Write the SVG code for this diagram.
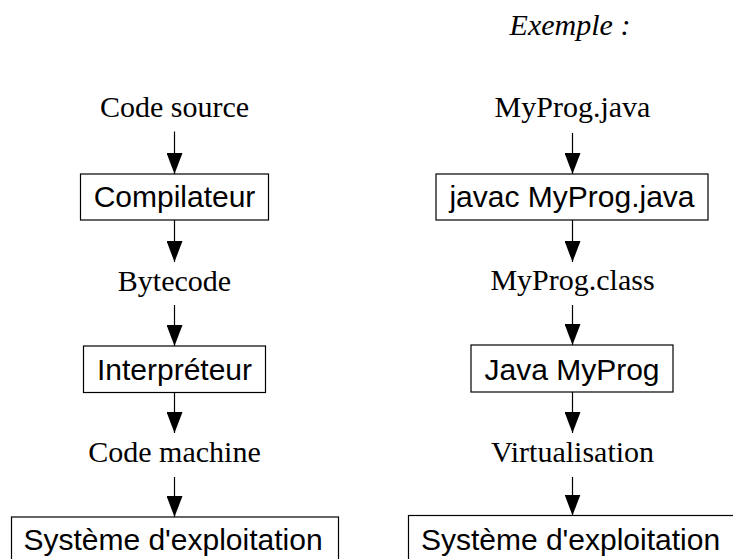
<svg xmlns="http://www.w3.org/2000/svg" width="733" height="559" viewBox="0 0 733 559">
<style>
.bg{fill:#fff}
.box{fill:#fff;stroke:#000;stroke-width:1.2}
.lbl{font-family:"Liberation Serif","Times New Roman",serif;font-size:30px;fill:#000;text-anchor:middle}
.it{font-style:italic}
.btxt{font-family:"Liberation Sans",Arial,sans-serif;font-size:30px;fill:#000;text-anchor:middle}
.conn line{stroke:#000;stroke-width:1.2;marker-end:url(#arr)}
</style>
<defs>
<marker id="arr" markerUnits="userSpaceOnUse" markerWidth="22" markerHeight="16" refX="21" refY="8" orient="auto" viewBox="0 0 22 16">
<path d="M0,0 L21,8 L0,16 z" fill="#000"/>
</marker>
</defs>
<rect class="bg" x="0" y="0" width="733" height="559"/>
<g id="title"><text class="lbl it" x="570" y="35">Exemple :</text></g>
<g id="code-source"><text class="lbl" x="174.5" y="117">Code source</text></g>
<g id="compilateur"><rect class="box" x="80.5" y="174" width="188" height="46"/><text class="btxt" x="174.5" y="207">Compilateur</text></g>
<g id="bytecode"><text class="lbl" x="174.5" y="291">Bytecode</text></g>
<g id="interpreteur"><rect class="box" x="83.5" y="346" width="182" height="46.5"/><text class="btxt" x="174.5" y="380">Interpréteur</text></g>
<g id="code-machine"><text class="lbl" x="174.5" y="462">Code machine</text></g>
<g id="os-left"><rect class="box" x="11.5" y="517" width="327" height="60"/><text class="btxt" x="173" y="550">Système d'exploitation</text></g>
<g id="myprog-java"><text class="lbl" x="572.5" y="117">MyProg.java</text></g>
<g id="javac"><rect class="box" x="436" y="174" width="272" height="46"/><text class="btxt" x="572" y="207">javac MyProg.java</text></g>
<g id="myprog-class"><text class="lbl" x="572.5" y="290">MyProg.class</text></g>
<g id="java-myprog"><rect class="box" x="471" y="345" width="202" height="47"/><text class="btxt" x="572" y="379.5">Java MyProg</text></g>
<g id="virtualisation"><text class="lbl" x="572.5" y="462">Virtualisation</text></g>
<g id="os-right"><rect class="box" x="408.5" y="515.5" width="340" height="60"/><text class="btxt" x="570.5" y="550">Système d'exploitation</text></g>
<g id="connectors" class="conn">
<line x1="174.5" y1="131.5" x2="174.5" y2="174"/>
<line x1="174.5" y1="220" x2="174.5" y2="262"/>
<line x1="174.5" y1="305" x2="174.5" y2="346"/>
<line x1="174.5" y1="392.5" x2="174.5" y2="433"/>
<line x1="174.5" y1="477" x2="174.5" y2="517"/>
<line x1="572.5" y1="133" x2="572.5" y2="174"/>
<line x1="572.5" y1="220" x2="572.5" y2="262"/>
<line x1="572.5" y1="305" x2="572.5" y2="345"/>
<line x1="572.5" y1="392" x2="572.5" y2="433"/>
<line x1="572.5" y1="477" x2="572.5" y2="515.5"/>
</g>
</svg>
